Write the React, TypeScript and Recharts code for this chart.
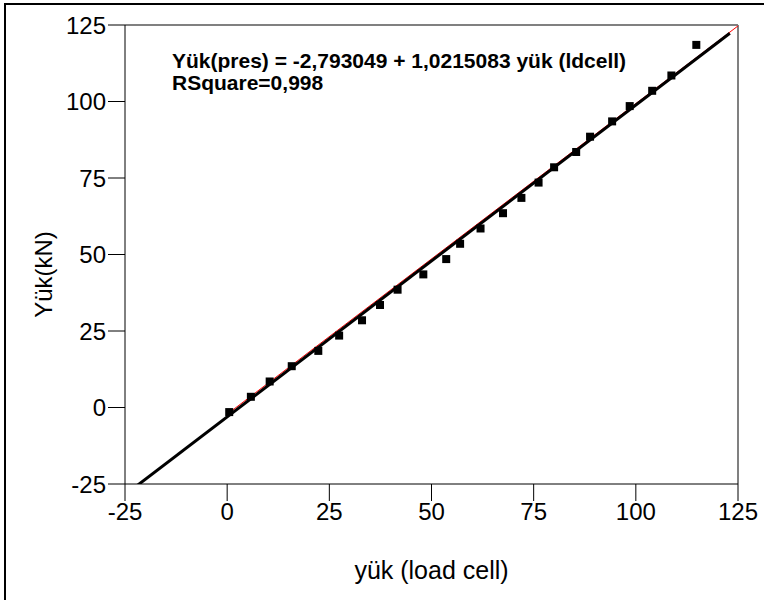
import React from 'react';
import { ScatterChart, Scatter, XAxis, YAxis, ReferenceLine } from 'recharts';

// measured points: load cell reading vs press reading (kN)
const loadCell = [0.5, 5.8, 10.4, 15.8, 22.3, 27.4, 33, 37.4, 41.7, 48, 53.6, 57, 62, 67.5, 72, 76.2, 80, 85.4, 88.8, 94.2, 98.5, 104, 108.7, 114.8];
const pressLoad = [-1.5, 3.5, 8.5, 13.5, 18.5, 23.5, 28.5, 33.5, 38.5, 43.5, 48.5, 53.5, 58.5, 63.5, 68.5, 73.5, 78.5, 83.5, 88.5, 93.5, 98.5, 103.5, 108.5, 118.5];

// fitted line end points (black) and the thin red line behind it
const fitX = [-23, 123];
const fitY = [-26.5, 122.3];
const redX = [0, 125];
const redY = [-2.2, 124.7];

const axisTicks = [-25, 0, 25, 50, 75, 100, 125];

const points = loadCell.map((x, i) => ({ x, y: pressLoad[i] }));
const fitLine = fitX.map((x, i) => ({ x, y: fitY[i] }));
const redLine = redX.map((x, i) => ({ x, y: redY[i] }));

const font = '"Liberation Sans", Arial, sans-serif';

const Square = (props: any) => (
  <rect x={props.cx - 4} y={props.cy - 4} width={8} height={8} fill="#000" />
);

const NoDot = () => <g />;

export default function App() {
  return (
    <div style={{ position: 'absolute', left: 0, top: 0, width: 764, height: 600, background: '#fff', overflow: 'hidden' }}>
      <div style={{ position: 'absolute', left: 4, top: 3, width: 800, height: 700, borderLeft: '2px solid #000', borderTop: '2px solid #000' }} />
      <ScatterChart width={764} height={600} margin={{ top: 25, right: 26, bottom: 16, left: 25 }}>
        <XAxis
          type="number"
          dataKey="x"
          domain={[-25, 125]}
          ticks={axisTicks}
          interval={0}
          allowDataOverflow
          height={100}
          tickSize={17}
          axisLine={{ stroke: '#000' }}
          tickLine={{ stroke: '#000' }}
          tick={{ fill: '#000', fontSize: 24, fontFamily: font }}
          label={(p: any) => (
            <text
              x={p.viewBox.x + p.viewBox.width / 2}
              y={p.viewBox.y + 95}
              textAnchor="middle"
              fontSize={25}
              fontFamily={font}
              fill="#000"
            >
              yük (load cell)
            </text>
          )}
        />
        <YAxis
          type="number"
          dataKey="y"
          domain={[-25, 125]}
          ticks={axisTicks}
          interval={0}
          allowDataOverflow
          width={100}
          tickSize={17}
          axisLine={{ stroke: '#000' }}
          tickLine={{ stroke: '#000' }}
          tick={{ fill: '#000', fontSize: 24, fontFamily: font }}
          label={(p: any) => {
            const cx = p.viewBox.x + 18;
            const cy = p.viewBox.y + p.viewBox.height / 2 + 20;
            return (
              <text
                x={cx}
                y={cy}
                transform={`rotate(-90, ${cx}, ${cy})`}
                textAnchor="middle"
                dominantBaseline="central"
                fontSize={24}
                fontFamily={font}
                fill="#000"
              >
                Yük(kN)
              </text>
            );
          }}
        />
        <ReferenceLine y={125} stroke="#808080" strokeWidth={2} />
        <ReferenceLine x={125} stroke="#808080" strokeWidth={2} />
        <Scatter data={redLine} line={{ stroke: '#ff0000', strokeWidth: 1 }} shape={NoDot} isAnimationActive={false} />
        <Scatter data={fitLine} line={{ stroke: '#000', strokeWidth: 3 }} shape={NoDot} isAnimationActive={false} />
        <Scatter data={points} shape={Square} isAnimationActive={false} />
      </ScatterChart>
      <div
        style={{
          position: 'absolute',
          left: 172,
          top: 50,
          fontFamily: font,
          fontWeight: 'bold',
          fontSize: 21,
          lineHeight: '22px',
          color: '#000',
          whiteSpace: 'nowrap',
        }}
      >
        <div>Yük(pres) = -2,793049 + 1,0215083 yük (ldcell)</div>
        <div>RSquare=0,998</div>
      </div>
    </div>
  );
}
